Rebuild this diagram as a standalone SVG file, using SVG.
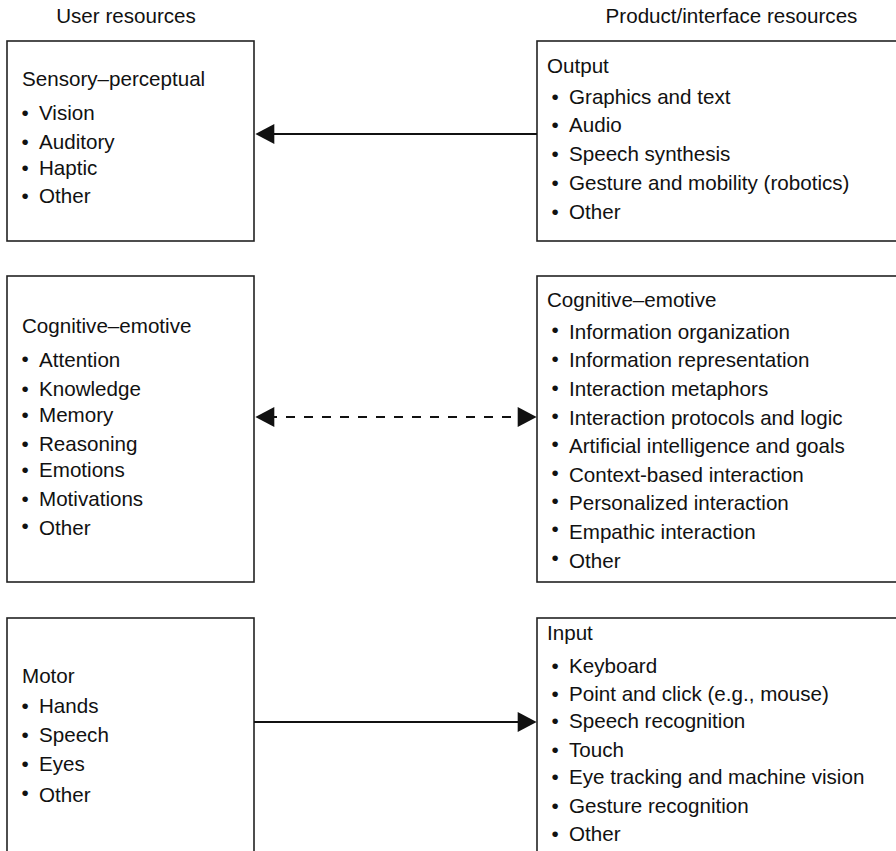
<svg xmlns="http://www.w3.org/2000/svg" width="896" height="851" viewBox="0 0 896 851">
<style>
text{font-family:"Liberation Sans",Arial,sans-serif;font-size:20.6px;fill:#111}
.box{fill:#fff;stroke:#222;stroke-width:1.6}
.ln{stroke:#111;stroke-width:2.2;fill:none}
.dash{stroke-dasharray:9 9}
</style>
<defs>
<marker id="ah" markerUnits="userSpaceOnUse" markerWidth="20" markerHeight="20" viewBox="0 0 18 19" refX="6" refY="9.5" orient="auto-start-reverse">
<path d="M0,0 L18,9.5 L0,19 z" fill="#111"/>
</marker>
</defs>
<rect width="896" height="851" fill="#fff"/>
<text x="126" y="23" text-anchor="middle">User resources</text>
<text x="731.5" y="23" text-anchor="middle">Product/interface resources</text>

<g id="user-sensory">
<rect class="box" x="7" y="41" width="247" height="200"/>
<text x="22" y="86">Sensory–perceptual</text>
<text x="21.4" y="120">•</text><text x="39" y="120">Vision</text>
<text x="21.4" y="149">•</text><text x="39" y="149">Auditory</text>
<text x="21.4" y="175">•</text><text x="39" y="175">Haptic</text>
<text x="21.4" y="203">•</text><text x="39" y="203">Other</text>
</g>

<g id="product-output">
<rect class="box" x="537" y="41" width="400" height="200"/>
<text x="547" y="73">Output</text>
<text x="551.4" y="104">•</text><text x="569" y="104">Graphics and text</text>
<text x="551.4" y="132">•</text><text x="569" y="132">Audio</text>
<text x="551.4" y="161">•</text><text x="569" y="161">Speech synthesis</text>
<text x="551.4" y="190">•</text><text x="569" y="190">Gesture and mobility (robotics)</text>
<text x="551.4" y="219">•</text><text x="569" y="219">Other</text>
</g>

<g id="user-cognitive">
<rect class="box" x="7" y="276" width="247" height="306"/>
<text x="22" y="333">Cognitive–emotive</text>
<text x="21.4" y="366">•</text><text x="39" y="367">Attention</text>
<text x="21.4" y="396">•</text><text x="39" y="396">Knowledge</text>
<text x="21.4" y="422">•</text><text x="39" y="422">Memory</text>
<text x="21.4" y="451">•</text><text x="39" y="451">Reasoning</text>
<text x="21.4" y="477">•</text><text x="39" y="477">Emotions</text>
<text x="21.4" y="506">•</text><text x="39" y="506">Motivations</text>
<text x="21.4" y="533">•</text><text x="39" y="535">Other</text>
</g>

<g id="product-cognitive">
<rect class="box" x="537" y="276" width="400" height="306"/>
<text x="547" y="307">Cognitive–emotive</text>
<text x="551.4" y="337">•</text><text x="569" y="339">Information organization</text>
<text x="551.4" y="366">•</text><text x="569" y="367">Information representation</text>
<text x="551.4" y="395">•</text><text x="569" y="396">Interaction metaphors</text>
<text x="551.4" y="423">•</text><text x="569" y="425">Interaction protocols and logic</text>
<text x="551.4" y="451">•</text><text x="569" y="453">Artificial intelligence and goals</text>
<text x="551.4" y="480">•</text><text x="569" y="482">Context-based interaction</text>
<text x="551.4" y="508">•</text><text x="569" y="510">Personalized interaction</text>
<text x="551.4" y="536">•</text><text x="569" y="539">Empathic interaction</text>
<text x="551.4" y="565">•</text><text x="569" y="568">Other</text>
</g>

<g id="user-motor">
<rect class="box" x="7" y="618" width="247" height="260"/>
<text x="22" y="683">Motor</text>
<text x="21.4" y="713">•</text><text x="39" y="713">Hands</text>
<text x="21.4" y="742">•</text><text x="39" y="742">Speech</text>
<text x="21.4" y="771">•</text><text x="39" y="771">Eyes</text>
<text x="21.4" y="800">•</text><text x="39" y="802">Other</text>
</g>

<g id="product-input">
<rect class="box" x="537" y="618" width="400" height="260"/>
<text x="547" y="640">Input</text>
<text x="551.4" y="673">•</text><text x="569" y="673">Keyboard</text>
<text x="551.4" y="701">•</text><text x="569" y="701">Point and click (e.g., mouse)</text>
<text x="551.4" y="728">•</text><text x="569" y="728">Speech recognition</text>
<text x="551.4" y="757">•</text><text x="569" y="757">Touch</text>
<text x="551.4" y="784">•</text><text x="569" y="784">Eye tracking and machine vision</text>
<text x="551.4" y="813">•</text><text x="569" y="813">Gesture recognition</text>
<text x="551.4" y="841">•</text><text x="569" y="841">Other</text>
</g>

<g id="connectors">
<line class="ln" x1="537" y1="134" x2="268" y2="134" marker-end="url(#ah)"/>
<line class="ln dash" x1="268" y1="417" x2="524" y2="417" marker-start="url(#ah)" marker-end="url(#ah)"/>
<line class="ln" x1="254" y1="722" x2="524" y2="722" marker-end="url(#ah)"/>
</g>
</svg>
